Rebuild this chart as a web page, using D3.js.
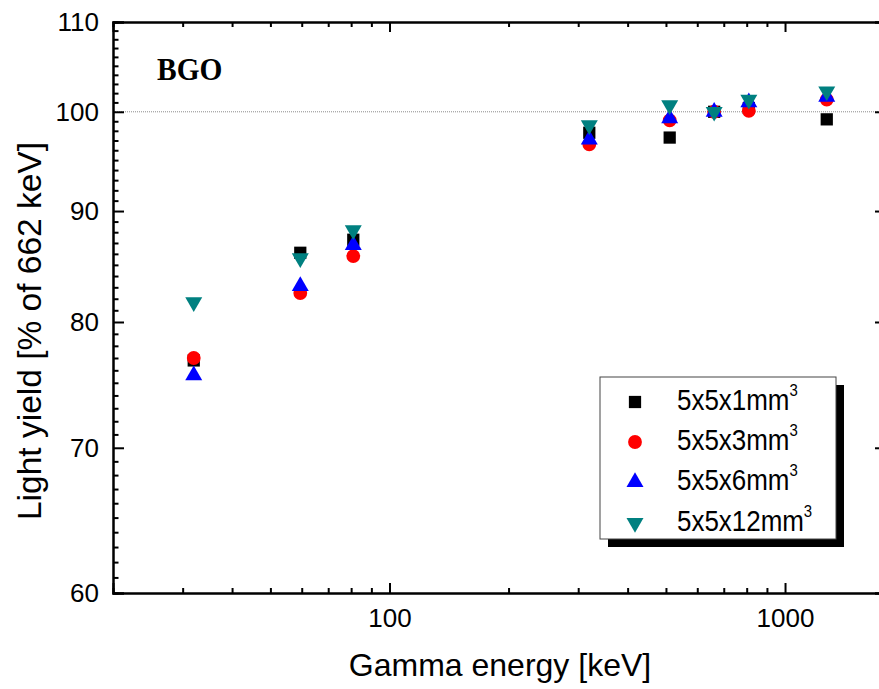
<!DOCTYPE html>
<html>
<head>
<meta charset="utf-8">
<script src="https://cdn.jsdelivr.net/npm/d3@7"></script>
<style>
  html, body { margin: 0; padding: 0; background: #fff; }
  svg { display: block; font-family: "Liberation Sans", Arial, sans-serif; }
</style>
</head>
<body>
<div id="chart"></div>
<script>
// gamma lines (keV) and relative light yield, normalised to 662 keV
const energies = [32, 59.5, 81, 320, 511, 662, 810, 1275];
const yield1mm = [76.8, 86.1, 87.3, 97.8, 97.3, 100, 100.4, 99.2];
const yield3mm = [77.0, 82.5, 85.8, 96.6, 99.1, 100, 100.1, 101.3];
const yield6mm = [75.6, 83.1, 86.8, 97.1, 99.3, 100, 101.0, 101.6];
const yield12mm = [81.7, 85.6, 88.2, 98.6, 100.7, 100, 101.3, 102.2];

const seriesNames = ["5x5x1mm", "5x5x3mm", "5x5x6mm", "5x5x12mm"];
const xMajor = [100, 1000];
const xMinor = [30, 40, 50, 60, 70, 80, 90, 200, 300, 400, 500, 600, 700, 800, 900];
const yMajor = [60, 70, 80, 90, 100, 110];
const refLevel = 100;

const W = 879, H = 689;
const margin = { top: 22, left: 113, right: -7, bottom: 96 };

const svg = d3.select("#chart").append("svg")
    .attr("width", W)
    .attr("height", H);

const x = d3.scaleLog().domain([20, 1800]).range([margin.left, W - margin.right]);
const y = d3.scaleLog().domain([60, 110]).range([H - margin.bottom, margin.top]);

const yMinor = d3.range(61, 110).filter(v => v % 10 !== 0);

const series = [
    { name: seriesNames[0], values: yield1mm, color: "#000000", shape: d3.symbolSquare, size: 150, rot: 0 },
    { name: seriesNames[1], values: yield3mm, color: "#ff0000", shape: d3.symbolCircle, size: 150, rot: 0 },
    { name: seriesNames[2], values: yield6mm, color: "#0000ff", shape: d3.symbolTriangle, size: 125, rot: 0 },
    { name: seriesNames[3], values: yield12mm, color: "#008080", shape: d3.symbolTriangle, size: 125, rot: 180 }
];

// dotted reference line at 100 %
svg.append("line")
    .attr("x1", x.range()[0]).attr("x2", x.range()[1])
    .attr("y1", y(refLevel)).attr("y2", y(refLevel))
    .attr("stroke", "#8c8c8c")
    .attr("stroke-width", 1)
    .attr("stroke-dasharray", "1,1");

// markers
series.forEach(s => {
    svg.append("g").selectAll("path")
        .data(energies.map((e, i) => [e, s.values[i]]))
        .enter()
        .append("path")
        .attr("d", d3.symbol().type(s.shape).size(s.size))
        .attr("transform", d => `translate(${x(d[0])},${y(d[1])}) rotate(${s.rot})`)
        .attr("fill", s.color);
});

// axes, ticks pointing inward
const y0 = y.range()[0], y1 = y.range()[1];
const x0 = x.range()[0], x1 = x.range()[1];

function styleAxis(g) {
    g.select(".domain").attr("stroke", "#000").attr("stroke-width", 2);
    g.selectAll(".tick line").attr("stroke", "#000").attr("stroke-width", 2);
}

function styleLabels(g) {
    g.selectAll("text")
        .attr("font-size", 26)
        .attr("font-family", "Liberation Sans, Arial, sans-serif")
        .attr("fill", "#000");
}

svg.append("g")
    .attr("transform", `translate(0,${y0})`)
    .call(d3.axisBottom(x).tickValues(xMinor).tickSize(-5).tickFormat(""))
    .call(styleAxis);
svg.append("g")
    .attr("transform", `translate(0,${y0})`)
    .call(d3.axisBottom(x).tickValues(xMajor).tickSize(-10).tickPadding(16).tickFormat(d3.format("d")))
    .call(styleAxis)
    .call(styleLabels);

svg.append("g")
    .attr("transform", `translate(0,${y1})`)
    .call(d3.axisTop(x).tickValues(xMinor).tickSize(-5).tickFormat(""))
    .call(styleAxis);
svg.append("g")
    .attr("transform", `translate(0,${y1})`)
    .call(d3.axisTop(x).tickValues(xMajor).tickSize(-10).tickFormat(""))
    .call(styleAxis);

svg.append("g")
    .attr("transform", `translate(${x0},0)`)
    .call(d3.axisLeft(y).tickValues(yMinor).tickSize(-5.5).tickFormat(""))
    .call(styleAxis);
svg.append("g")
    .attr("transform", `translate(${x0},0)`)
    .call(d3.axisLeft(y).tickValues(yMajor).tickSize(-11).tickPadding(14).tickFormat(d3.format("d")))
    .call(styleAxis)
    .call(styleLabels);

svg.append("g")
    .attr("transform", `translate(${x1},0)`)
    .call(d3.axisRight(y).tickValues(yMinor).tickSize(-5.5).tickFormat(""))
    .call(styleAxis);
svg.append("g")
    .attr("transform", `translate(${x1},0)`)
    .call(d3.axisRight(y).tickValues(yMajor).tickSize(-11).tickFormat(""))
    .call(styleAxis);

// axis titles
svg.append("text")
    .attr("transform", "translate(500,676)")
    .attr("text-anchor", "middle")
    .attr("font-size", 32)
    .text("Gamma energy [keV]");

svg.append("text")
    .attr("transform", "translate(41,331) rotate(-90)")
    .attr("text-anchor", "middle")
    .attr("font-size", 33.5)
    .text("Light yield [% of 662 keV]");

// sample label
svg.append("text")
    .attr("transform", "translate(157,80) scale(0.95,1)")
    .attr("font-family", "Liberation Serif, Times New Roman, serif")
    .attr("font-weight", "bold")
    .attr("font-size", 31)
    .text("BGO");

// legend with drop shadow
const legend = svg.append("g").attr("transform", "translate(600,377)");
const lw = 236, lh = 162;
legend.append("rect")
    .attr("x", 8).attr("y", 8).attr("width", lw).attr("height", lh)
    .attr("fill", "#000");
legend.append("rect")
    .attr("x", 0).attr("y", 0).attr("width", lw).attr("height", lh)
    .attr("fill", "#fff")
    .attr("stroke", "#444")
    .attr("stroke-width", 1);

const rowY = [25, 65, 105, 146];
series.forEach((s, i) => {
    const row = legend.append("g").attr("transform", `translate(0,${rowY[i]})`);
    row.append("path")
        .attr("d", d3.symbol().type(s.shape).size(s.size))
        .attr("transform", `translate(35,0) rotate(${s.rot})`)
        .attr("fill", s.color);
    const t = row.append("text")
        .attr("transform", "translate(77,8) scale(0.88,1)")
        .attr("font-size", 29.5)
        .attr("fill", "#000");
    t.append("tspan").text(s.name);
    t.append("tspan")
        .attr("font-size", 17)
        .attr("dy", -14)
        .text("3");
});
</script>
</body>
</html>
